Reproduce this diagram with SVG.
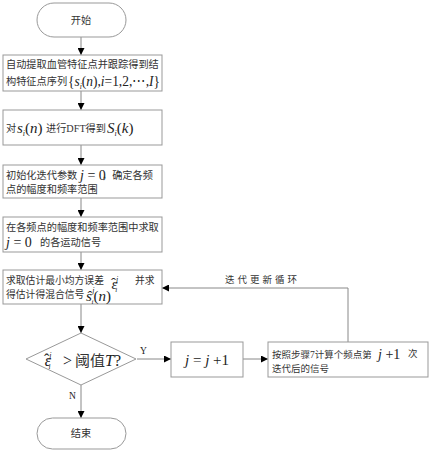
<svg xmlns="http://www.w3.org/2000/svg" width="432" height="450" viewBox="0 0 432 450">
<defs>
<marker id="arr" viewBox="0 0 10 10" refX="10" refY="5" markerWidth="7" markerHeight="7" orient="auto" markerUnits="userSpaceOnUse">
<path d="M0,0 L10,5 L0,10 z" fill="#000"/>
</marker>
</defs>
<style>
.box{fill:#fff;stroke:#999;stroke-width:1}
.ln{fill:none;stroke:#888;stroke-width:1}
.cn{font-family:"Liberation Serif","Noto Sans CJK SC",serif;fill:#333}
.m{font-family:"Liberation Serif",serif;font-style:italic;fill:#222}
.r{font-family:"Liberation Serif",serif;fill:#222}
.n{font-style:normal}
</style>
<rect width="432" height="450" fill="#fff"/>
<g id="connectors">
<line class="ln" x1="81" y1="37" x2="81" y2="55" marker-end="url(#arr)"/>
<line class="ln" x1="81" y1="91" x2="81" y2="110" marker-end="url(#arr)"/>
<line class="ln" x1="81" y1="145" x2="81" y2="165" marker-end="url(#arr)"/>
<line class="ln" x1="81" y1="198" x2="81" y2="217" marker-end="url(#arr)"/>
<line class="ln" x1="81" y1="252" x2="81" y2="270" marker-end="url(#arr)"/>
<line class="ln" x1="81" y1="304" x2="81" y2="333" marker-end="url(#arr)"/>
<line class="ln" x1="81" y1="385" x2="81" y2="418" marker-end="url(#arr)"/>
<line class="ln" x1="137" y1="359" x2="171" y2="359" marker-end="url(#arr)"/>
<line class="ln" x1="243" y1="359" x2="268" y2="359" marker-end="url(#arr)"/>
<polyline class="ln" points="348,342 348,288 162,288" marker-end="url(#arr)"/>
<text class="cn" x="225" y="283" font-size="9.5" letter-spacing="3">迭代更新循环</text>
<text class="r" x="140" y="354" font-size="9.5">Y</text>
<text class="r" x="69" y="399" font-size="9.5">N</text>
</g>
<g id="start">
<rect class="box" x="37" y="3" width="89" height="34" rx="17"/>
<text class="cn" x="81" y="24" font-size="10.2" text-anchor="middle">开始</text>
</g>
<g id="extract">
<rect class="box" x="3" y="55" width="159" height="36"/>
<text class="cn" x="6" y="68" font-size="10.2">自动提取血管特征点并跟踪得到结</text>
<text class="cn" x="6" y="85" font-size="10.2">构特征点序列</text>
<text class="m" x="68" y="86" font-size="14" textLength="92" lengthAdjust="spacingAndGlyphs"><tspan class="n">{</tspan>s<tspan font-size="8" dy="3">i</tspan><tspan dy="-3" class="n">(</tspan>n<tspan class="n">),</tspan>i<tspan class="n">=1,2,⋯,</tspan>I<tspan class="n">}</tspan></text>
</g>
<g id="dft">
<rect class="box" x="3" y="110" width="159" height="35"/>
<text class="cn" x="6" y="132" font-size="10.2">对</text>
<text class="m" x="17" y="133" font-size="15">s<tspan font-size="8" dy="3">i</tspan><tspan dy="-3" class="n">(</tspan>n<tspan class="n">)</tspan></text>
<text class="cn" x="46" y="132" font-size="10.2">进行DFT得到</text>
<text class="m" x="107" y="133" font-size="15">S<tspan font-size="8" dy="3">i</tspan><tspan dy="-3" class="n">(</tspan>k<tspan class="n">)</tspan></text>
</g>
<g id="init">
<rect class="box" x="3" y="165" width="159" height="33"/>
<text class="cn" x="6" y="179" font-size="10.2">初始化迭代参数</text>
<text class="m" x="80" y="180" font-size="14">j<tspan class="n"> = 0</tspan></text>
<text class="cn" x="102" y="179" font-size="10.2">，确定各频</text>
<text class="cn" x="6" y="193" font-size="10.2">点的幅度和频率范围</text>
</g>
<g id="signals">
<rect class="box" x="3" y="217" width="159" height="35"/>
<text class="cn" x="6" y="231" font-size="10.2">在各频点的幅度和频率范围中求取</text>
<text class="m" x="6" y="247" font-size="14">j<tspan class="n"> = 0</tspan></text>
<text class="cn" x="40" y="246" font-size="10.2">的各运动信号</text>
</g>
<g id="estimate">
<rect class="box" x="3" y="270" width="159" height="34"/>
<text class="cn" x="6" y="284" font-size="9.8">求取估计最小均方误差</text>
<text class="m" x="111" y="289" font-size="15">ε<tspan class="n" dx="-6.5" dy="-1">ˆ</tspan><tspan font-size="8" dx="0" dy="-6">j</tspan><tspan font-size="7" dx="-3" dy="10">i</tspan></text>
<text class="cn" x="135" y="284" font-size="9.8">并求</text>
<text class="cn" x="6" y="298" font-size="9.8">得估计得混合信号</text>
<text class="m" x="86" y="301" font-size="15">ŝ<tspan font-size="8" dx="0.5" dy="-8">j</tspan><tspan font-size="7" dx="-3" dy="11">i</tspan><tspan dy="-3" class="n">(</tspan>n<tspan class="n">)</tspan></text>
</g>
<g id="decision">
<polygon class="box" points="81,333 136,359 81,385 26,359"/>
<text class="m" x="44" y="366" font-size="16">ε<tspan class="n" dx="-7" dy="-1">ˆ</tspan><tspan font-size="8" dx="0" dy="-7">j</tspan><tspan font-size="7" dx="-3" dy="11">i</tspan></text>
<text class="r" x="63" y="366" font-size="16">&gt;</text>
<text class="cn" x="75" y="366" font-size="15">阈值</text>
<text class="m" x="105" y="366" font-size="16">T<tspan class="n">?</tspan></text>
</g>
<g id="increment">
<rect class="box" x="171" y="342" width="72" height="35"/>
<text class="m" x="207" y="365" font-size="15" text-anchor="middle">j<tspan class="n"> = </tspan>j<tspan class="n"> +1</tspan></text>
</g>
<g id="compute">
<rect class="box" x="268" y="342" width="160" height="35"/>
<text class="cn" x="272" y="358" font-size="9.5">按照步骤7计算个频点第</text>
<text class="m" x="378" y="359" font-size="14">j<tspan class="n"> +1</tspan></text>
<text class="cn" x="408" y="357" font-size="9.5">次</text>
<text class="cn" x="272" y="372" font-size="9.5">迭代后的信号</text>
</g>
<g id="end">
<rect class="box" x="37" y="418" width="89" height="31" rx="15.5"/>
<text class="cn" x="81" y="437" font-size="10.2" text-anchor="middle">结束</text>
</g>
</svg>
